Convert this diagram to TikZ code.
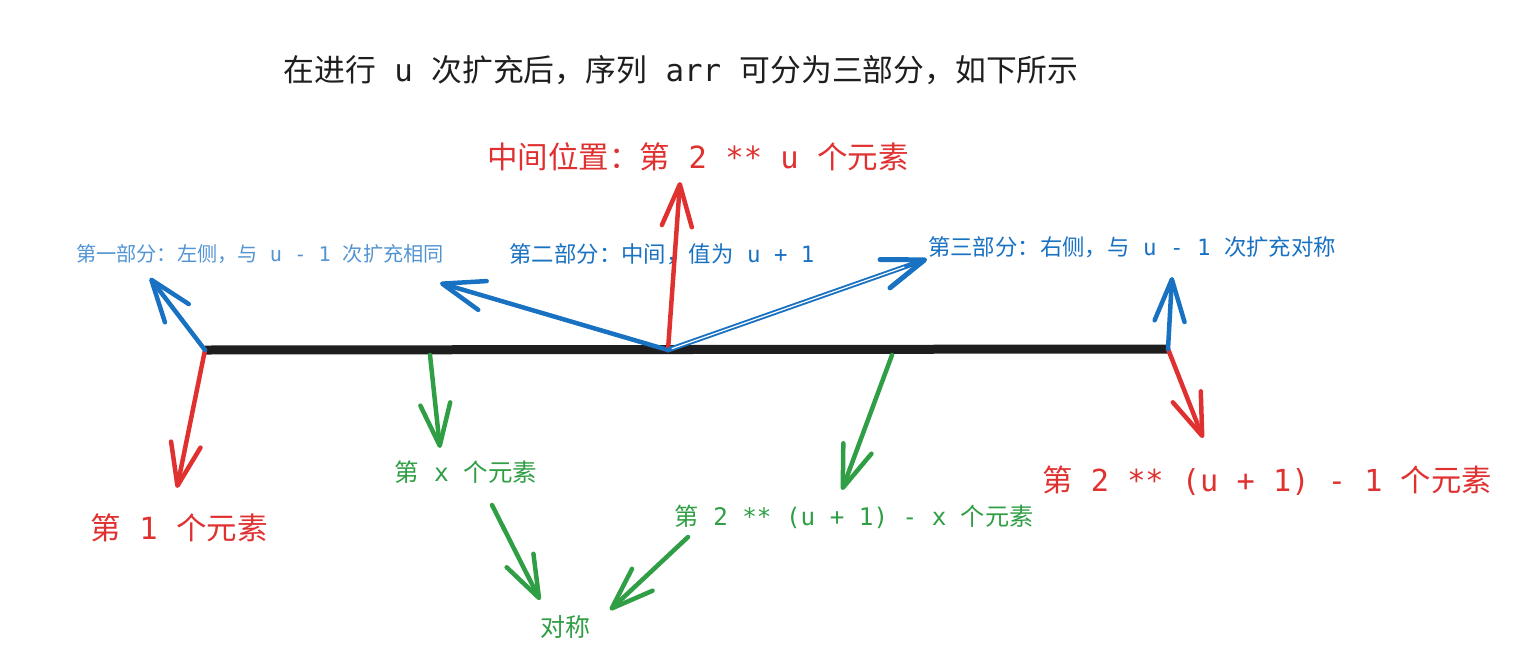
\documentclass[tikz,border=0pt]{standalone}
\usepackage{fontspec}
\setmainfont{Noto Sans CJK SC}
\newfontfamily\monofont{DejaVu Sans Mono}
\usetikzlibrary{arrows.meta}
\newcommand{\mm}[1]{{\monofont #1}}
\definecolor{inkblack}{HTML}{1E1E1E}
\definecolor{inkred}{HTML}{E03131}
\definecolor{inkblue}{HTML}{1971C2}
\definecolor{inkgreen}{HTML}{2F9E44}
\tikzset{
  sketcharrow/.style={-{Straight Barb[length=42pt,width=30pt,round]}, line width=4.5pt, line cap=round, line join=round},
  lbl/.style={inner sep=0pt, anchor=center},
}
\begin{document}
\begin{tikzpicture}[x=1pt,y=-1pt]
\useasboundingbox (0,0) rectangle (1531,667);
% labels
\node[lbl, font=\fontsize{30.8}{34}\selectfont, text=inkblack] (title) at (681,70) {在进行\mm{ u }次扩充后，序列\mm{ arr }可分为三部分，如下所示};
\node[lbl, font=\fontsize{30.5}{34}\selectfont, text=inkred] (midlbl) at (698,157) {中间位置：第\mm{ 2 ** u }个元素};
\node[lbl, font=\fontsize{20.2}{24}\selectfont, text=inkblue!75!white] (part1) at (260,254) {第一部分：左侧，与\mm{ u - 1 }次扩充相同};
\node[lbl, font=\fontsize{22.4}{26}\selectfont, text=inkblue] (part2) at (662,254) {第二部分：中间，值为\mm{ u + 1}};
\node[lbl, font=\fontsize{22.4}{26}\selectfont, text=inkblue] (part3) at (1132,247) {第三部分：右侧，与\mm{ u - 1 }次扩充对称};
\node[lbl, font=\fontsize{30.5}{34}\selectfont, text=inkred] (first) at (179,528) {第\mm{ 1 }个元素};
\node[lbl, font=\fontsize{30.3}{34}\selectfont, text=inkred] (last) at (1267,481) {第\mm{ 2 ** (u + 1) - 1 }个元素};
\node[lbl, font=\fontsize{24.5}{28}\selectfont, text=inkgreen] (xth) at (466,472) {第\mm{ x }个元素};
\node[lbl, font=\fontsize{24.2}{28}\selectfont, text=inkgreen] (mirror) at (854,517) {第\mm{ 2 ** (u + 1) - x }个元素};
\node[lbl, font=\fontsize{25}{28}\selectfont, text=inkgreen] (sym) at (565,627) {对称};
% coordinates
\coordinate (L) at (205,350);
\coordinate (R) at (1168,349);
\coordinate (M) at (668,350);
\coordinate (tFirst) at (177,488);
\coordinate (sX) at (430,355);
\coordinate (tX) at (440,448);
\coordinate (sXs) at (492,505);
\coordinate (tXs) at (540,600);
\coordinate (sMs) at (688,537);
\coordinate (tMs) at (610,610);
\coordinate (sMir) at (892,355);
\coordinate (tMir) at (842,490);
\coordinate (tLast) at (1203,438);
\coordinate (tP3) at (1172,277);
\coordinate (tP1) at (150,278);
\coordinate (tP2) at (440,283);
\coordinate (tMid) at (680,182);
\coordinate (tP3b) at (927,259);
% main line
\draw[inkblack, line width=9pt] (L) -- (R);
% arrows
\draw[sketcharrow, inkred] (L) -- (tFirst);
\draw[sketcharrow, inkblue] (L) -- (tP1);
\draw[sketcharrow, inkgreen] (sX) -- (tX);
\draw[sketcharrow, inkgreen] (sXs) -- (tXs);
\draw[sketcharrow, inkgreen] (sMs) -- (tMs);
\draw[sketcharrow, inkgreen] (sMir) -- (tMir);
\draw[sketcharrow, inkred] (R) -- (tLast);
\draw[sketcharrow, inkblue] (R) -- (tP3);
\draw[sketcharrow, inkblue] (M) -- (tP2);
\draw[sketcharrow, inkred] (M) -- (tMid);
\draw[sketcharrow, inkblue, line width=5pt] (M) -- (tP3b);
\draw[white, line width=1.2pt, shorten >=24pt, shorten <=4pt] (M) -- (tP3b);
\end{tikzpicture}
\end{document}
